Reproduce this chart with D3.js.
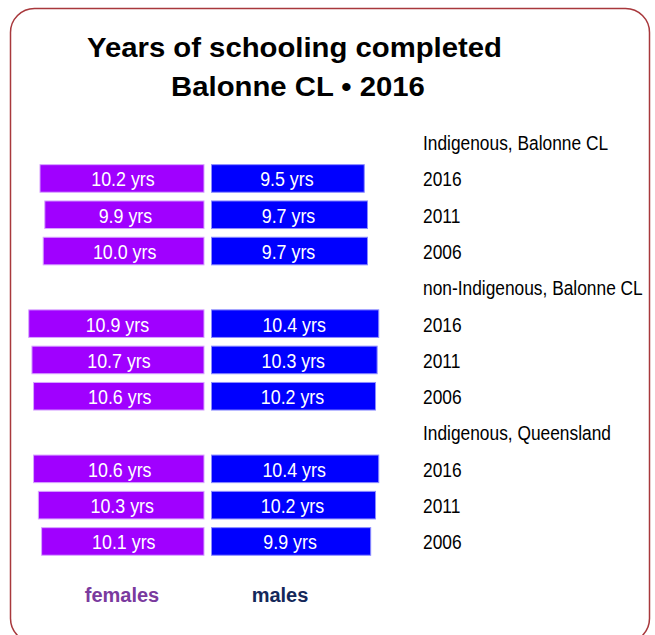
<!DOCTYPE html>
<html>
<head>
<meta charset="utf-8">
<script src="https://cdn.jsdelivr.net/npm/d3@7"></script>
<style>
  body { margin: 0; background: #fff; }
  svg { display: block; font-family: "Liberation Sans", Arial, sans-serif; }
</style>
</head>
<body>
<svg id="chart"></svg>
<script>
// data
const groups = ["Indigenous, Balonne CL", "non-Indigenous, Balonne CL", "Indigenous, Queensland"];
const years = ["2016", "2011", "2006"];
const females = [[10.2, 9.9, 10.0], [10.9, 10.7, 10.6], [10.6, 10.3, 10.1]];
const males = [[9.5, 9.7, 9.7], [10.4, 10.3, 10.2], [10.4, 10.2, 9.9]];
const titleLines = ["Years of schooling completed", "Balonne CL \u2022 2016"];

// rows: a header row per group then one per year
const rows = [];
groups.forEach((g, gi) => {
  rows.push({ key: "h" + gi, label: g, header: true });
  years.forEach((yr, yi) => {
    rows.push({ key: gi + "-" + yr, label: yr, header: false, f: females[gi][yi], m: males[gi][yi] });
  });
});
const bars = rows.filter(d => !d.header);

const W = 655, H = 635;
const svg = d3.select("#chart").attr("width", W).attr("height", H);

// frame
svg.append("rect")
  .attr("x", 10.5).attr("y", 8.5)
  .attr("width", 639).attr("height", 634)
  .attr("rx", 24).attr("ry", 24)
  .attr("fill", "none")
  .attr("stroke", "#a8383c")
  .attr("stroke-width", 1.5);

// title (slightly stretched like the original)
svg.append("g").selectAll("text")
  .data(titleLines).join("text")
  .attr("transform", (d, i) => `translate(${i ? 298 : 294.5},${i ? 95.5 : 57}) scale(1.085,1)`)
  .attr("text-anchor", "middle")
  .style("font-weight", "bold")
  .style("font-size", "27px")
  .attr("fill", "#000")
  .text(d => d);

// scales
const y = d3.scaleBand()
  .domain(rows.map(d => d.key))
  .range([124, 559.6])
  .paddingInner(0.24)
  .paddingOuter(0.12);

const xF = d3.scaleLinear().domain([0, 12]).range([204, 204 - 12 * 16.08]);
const xM = d3.scaleLinear().domain([0, 12]).range([211.5, 211.5 + 12 * 16.08]);

const fmt = d => d3.format(".1f")(d) + " yrs";
const sx = 0.87;

// female bars
svg.append("g").selectAll("rect")
  .data(bars).join("rect")
  .attr("x", d => xF(d.f))
  .attr("y", d => y(d.key))
  .attr("width", d => xF(0) - xF(d.f))
  .attr("height", y.bandwidth())
  .attr("fill", "#a000ff")
  .attr("stroke", "#d8a6ff")
  .attr("stroke-width", 1);

// male bars
svg.append("g").selectAll("rect")
  .data(bars).join("rect")
  .attr("x", xM(0))
  .attr("y", d => y(d.key))
  .attr("width", d => xM(d.m) - xM(0))
  .attr("height", y.bandwidth())
  .attr("fill", "#0000ff")
  .attr("stroke", "#8c8cff")
  .attr("stroke-width", 1);

// bar labels
svg.append("g").selectAll("text")
  .data(bars).join("text")
  .attr("transform", d => `translate(${(xF(d.f) + xF(0)) / 2 + 1},${y(d.key) + y.bandwidth() / 2 + 1}) scale(${sx},1)`)
  .attr("text-anchor", "middle")
  .attr("dominant-baseline", "central")
  .style("font-size", "20.5px")
  .attr("fill", "#fff")
  .text(d => fmt(d.f));

svg.append("g").selectAll("text")
  .data(bars).join("text")
  .attr("transform", d => `translate(${(xM(0) + xM(d.m)) / 2 - 1},${y(d.key) + y.bandwidth() / 2 + 1}) scale(${sx},1)`)
  .attr("text-anchor", "middle")
  .attr("dominant-baseline", "central")
  .style("font-size", "20.5px")
  .attr("fill", "#fff")
  .text(d => fmt(d.m));

// row labels on the right
svg.append("g").selectAll("text")
  .data(rows).join("text")
  .attr("transform", d => `translate(423,${y(d.key) + y.bandwidth() / 2 + 1}) scale(0.89,1)`)
  .attr("dominant-baseline", "central")
  .style("font-size", "19.5px")
  .attr("fill", "#000")
  .text(d => d.label);

// legend
svg.append("text")
  .attr("x", 122).attr("y", 601.5)
  .attr("text-anchor", "middle")
  .style("font-weight", "bold")
  .style("font-size", "20px")
  .attr("fill", "#7a3a9e")
  .text("females");

svg.append("text")
  .attr("x", 280).attr("y", 601.5)
  .attr("text-anchor", "middle")
  .style("font-weight", "bold")
  .style("font-size", "20px")
  .attr("fill", "#14285a")
  .text("males");
</script>
</body>
</html>
